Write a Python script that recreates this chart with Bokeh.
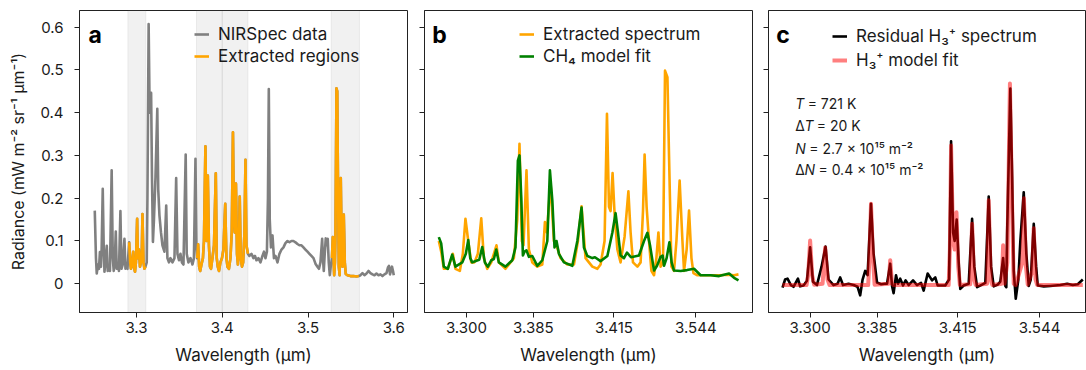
import numpy as np
from bokeh.plotting import figure
from bokeh.models import Range1d, FixedTicker, BoxAnnotation, Legend, LegendItem, Label
from bokeh.layouts import row
from bokeh.embed import file_html
from bokeh.resources import INLINE

# ---------------- data ----------------
# Panel a: full NIRSpec spectrum (wavelength in micron, radiance)
wl_a = [3.2514, 3.2528, 3.2537, 3.2551, 3.2563, 3.2574, 3.2586, 3.2594, 3.2607, 3.2618,
        3.2627, 3.2639, 3.2654, 3.2665, 3.2679, 3.2691, 3.2711, 3.2724, 3.2735, 3.2747,
        3.2759, 3.2770, 3.2784, 3.2796, 3.2813, 3.2825, 3.2840, 3.2860, 3.2872, 3.2883,
        3.2895,
        3.2915, 3.2927, 3.2936, 3.2948, 3.2962, 3.2971, 3.2983, 3.2994, 3.3008, 3.3017,
        3.3029, 3.3041, 3.3052, 3.3062, 3.3070, 3.3082, 3.3093, 3.3105,
        3.3120, 3.3128, 3.3142, 3.3154, 3.3161, 3.3171, 3.3181, 3.3192, 3.3204, 3.3222,
        3.3243, 3.3254, 3.3268, 3.3286, 3.3303, 3.3326, 3.3347, 3.3361, 3.3379, 3.3396,
        3.3420, 3.3443, 3.3463, 3.3478, 3.3496, 3.3513, 3.3530, 3.3548, 3.3574, 3.3586,
        3.3606, 3.3630, 3.3653, 3.3670, 3.3688, 3.3699,
        3.3708, 3.3719, 3.3731, 3.3743, 3.3758, 3.3775, 3.3787, 3.3804, 3.3818, 3.3832,
        3.3845, 3.3857, 3.3869, 3.3886, 3.3904, 3.3925, 3.3936, 3.3948, 3.3962, 3.3979,
        3.3997, 3.4014, 3.4035, 3.4049, 3.4061, 3.4078, 3.4096, 3.4111, 3.4125, 3.4137,
        3.4146, 3.4160, 3.4172, 3.4183, 3.4195, 3.4204, 3.4216, 3.4230, 3.4244, 3.4259,
        3.4271, 3.4282, 3.4300,
        3.4317, 3.4341, 3.4364, 3.4382, 3.4399, 3.4422, 3.4446, 3.4469, 3.4487, 3.4504,
        3.4521, 3.4533, 3.4543, 3.4554, 3.4568, 3.4586, 3.4603, 3.4621, 3.4644, 3.4667,
        3.4691, 3.4714, 3.4737, 3.4761, 3.4784, 3.4807, 3.4830, 3.4854, 3.4877, 3.4900,
        3.4924, 3.4947, 3.4970, 3.4994, 3.5017, 3.5040, 3.5064, 3.5087, 3.5110, 3.5128,
        3.5145, 3.5165, 3.5174, 3.5184, 3.5195, 3.5207, 3.5219, 3.5230, 3.5242, 3.5254,
        3.5265,
        3.5279, 3.5289, 3.5297, 3.5305, 3.5314, 3.5320, 3.5332, 3.5341, 3.5349, 3.5359,
        3.5369, 3.5382, 3.5392, 3.5402, 3.5417, 3.5429, 3.5440, 3.5460, 3.5495, 3.5530,
        3.5565, 3.5592,
        3.5612, 3.5635, 3.5658, 3.5682, 3.5705, 3.5728, 3.5752, 3.5775, 3.5798, 3.5822,
        3.5845, 3.5868, 3.5891, 3.5915, 3.5932, 3.5944, 3.5956, 3.5967, 3.5979, 3.5991,
        3.6000]
rad_a = [0.171, 0.060, 0.024, 0.045, 0.035, 0.074, 0.040, 0.080, 0.222, 0.090,
         0.028, 0.050, 0.089, 0.030, 0.040, 0.030, 0.265, 0.060, 0.030, 0.050,
         0.122, 0.035, 0.045, 0.030, 0.170, 0.035, 0.045, 0.105, 0.035, 0.040,
         0.035,
         0.097, 0.050, 0.035, 0.045, 0.075, 0.040, 0.028, 0.050, 0.152, 0.060,
         0.080, 0.040, 0.050, 0.070, 0.163, 0.050, 0.035, 0.040,
         0.050, 0.200, 0.607, 0.400, 0.410, 0.446, 0.250, 0.098, 0.150, 0.250,
         0.409, 0.220, 0.160, 0.120, 0.090, 0.075, 0.183, 0.060, 0.050, 0.060,
         0.050, 0.060, 0.247, 0.070, 0.055, 0.070, 0.050, 0.045, 0.302, 0.070,
         0.050, 0.060, 0.045, 0.060, 0.292, 0.090,
         0.060, 0.092, 0.040, 0.030, 0.045, 0.060, 0.100, 0.321, 0.100, 0.253,
         0.090, 0.040, 0.035, 0.060, 0.090, 0.258, 0.060, 0.040, 0.030, 0.050,
         0.060, 0.080, 0.187, 0.060, 0.040, 0.035, 0.060, 0.120, 0.354, 0.150,
         0.120, 0.234, 0.070, 0.045, 0.090, 0.204, 0.060, 0.040, 0.050, 0.120,
         0.290, 0.090, 0.070,
         0.065, 0.070, 0.060, 0.065, 0.055, 0.060, 0.050, 0.065, 0.075, 0.060,
         0.075, 0.200, 0.455, 0.150, 0.085, 0.113, 0.060, 0.065, 0.050, 0.070,
         0.080, 0.085, 0.095, 0.100, 0.097, 0.100, 0.100, 0.097, 0.093, 0.090,
         0.090, 0.085, 0.080, 0.075, 0.070, 0.065, 0.060, 0.047, 0.040, 0.035,
         0.050, 0.105, 0.060, 0.030, 0.070, 0.106, 0.090, 0.105, 0.050, 0.020,
         0.040,
         0.060, 0.109, 0.060, 0.020, 0.050, 0.110, 0.457, 0.450, 0.250, 0.040,
         0.020, 0.247, 0.100, 0.040, 0.162, 0.050, 0.023, 0.020, 0.018, 0.018,
         0.017, 0.018,
         0.020, 0.025, 0.020, 0.024, 0.030, 0.025, 0.022, 0.020, 0.024, 0.020,
         0.022, 0.018, 0.022, 0.025, 0.038, 0.042, 0.022, 0.030, 0.040, 0.030,
         0.020]
extract_regions = [(3.2905, 3.3110), (3.3705, 3.4305), (3.5272, 3.5597)]
shade_bands = [(3.29, 3.311), (3.37, 3.40), (3.40, 3.43), (3.527, 3.56)]
xticks_a = [3.3, 3.4, 3.5, 3.6]
xlabels_a = ["3.3", "3.4", "3.5", "3.6"]
yticks = [0, 0.1, 0.2, 0.3, 0.4, 0.5, 0.6]
ylabels = ["0", "0.1", "0.2", "0.3", "0.4", "0.5", "0.6"]

# Panels b, c: concatenated extracted spectrum (sample index)
xticks_bc = [13.8, 47.2, 87.5, 128.4]
xlabels_bc = ["3.300", "3.385", "3.415", "3.544"]

idx_b_obs = [0, 1.2, 2.5, 4.5, 7, 8.3, 10.5, 12, 13.3, 14.7, 16.2, 17.8, 19.5, 21.2, 22.5,
             24.2, 26.2, 28.8, 30, 33.3, 37.5, 39.2, 40.3, 41.5, 42.3, 43.8, 45, 46.7, 49.2,
             51.7, 53, 54, 55.8, 57.5, 58.8, 60.8, 64.2, 67.5, 69.5, 71.3, 73.3, 75, 76.7,
             79.2, 80.8, 82.8, 84, 85, 85.8, 86.8, 87.8, 89.2, 90.8, 92.8, 94.7, 95.8, 97,
             99.2, 100.8, 102, 102.8, 103.8, 105, 106.2, 107.5, 108.7, 109.7, 110.8, 112,
             113, 114.2, 115, 116.2, 117.5, 118.7, 120.3, 121.7, 122.5, 123.8, 125, 126.2,
             127.2, 129, 134, 140, 145, 147.5, 149.7]
rad_b_obs = [0.100, 0.075, 0.035, 0.035, 0.070, 0.035, 0.030, 0.070, 0.152, 0.100, 0.050,
             0.050, 0.070, 0.153, 0.060, 0.035, 0.050, 0.090, 0.050, 0.035, 0.060, 0.150,
             0.327, 0.100, 0.090, 0.265, 0.080, 0.050, 0.040, 0.045, 0.144, 0.120, 0.237,
             0.100, 0.090, 0.060, 0.045, 0.045, 0.100, 0.181, 0.060, 0.050, 0.040, 0.035,
             0.045, 0.100, 0.397, 0.180, 0.170, 0.259, 0.163, 0.080, 0.050, 0.110, 0.216,
             0.120, 0.050, 0.040, 0.050, 0.170, 0.302, 0.180, 0.100, 0.030, 0.020, 0.060,
             0.120, 0.040, 0.050, 0.498, 0.483, 0.300, 0.040, 0.030, 0.100, 0.241, 0.100,
             0.030, 0.080, 0.171, 0.060, 0.025, 0.020, 0.020, 0.020, 0.021, 0.020, 0.022]

idx_b_fit = [0, 1.2, 2.5, 4.5, 6.7, 8.3, 11.7, 13.5, 14.7, 15.7, 16.7, 18.8, 20.2, 21.7, 23,
             24.5, 26.2, 27.5, 28.7, 30, 33.3, 36.7, 38.3, 39.5, 40.3, 41.2, 42, 42.8, 43.8,
             45, 46.7, 49.2, 51.7, 54.2, 55.5, 56.7, 57.8, 58.8, 60, 62.5, 66.7, 69.2, 71.3,
             72.5, 74.2, 76.7, 78, 80.8, 84.2, 86.7, 88.3, 89.5, 90.8, 92.5, 94, 96, 100,
             102.5, 104.2, 105.5, 107.5, 109, 110.8, 111.8, 112.5, 113.8, 115.2, 116.3, 117.5,
             120.8, 124, 127.5, 130.8, 135.8, 140, 145, 147.5, 149.7]
rad_b_fit = [0.109, 0.094, 0.040, 0.035, 0.068, 0.040, 0.050, 0.070, 0.102, 0.060, 0.050,
             0.054, 0.056, 0.086, 0.050, 0.040, 0.055, 0.058, 0.080, 0.050, 0.040, 0.055,
             0.085, 0.288, 0.300, 0.200, 0.066, 0.075, 0.078, 0.063, 0.065, 0.042, 0.055,
             0.100, 0.265, 0.195, 0.085, 0.100, 0.070, 0.050, 0.042, 0.100, 0.178, 0.085,
             0.065, 0.060, 0.062, 0.053, 0.065, 0.120, 0.165, 0.120, 0.066, 0.060, 0.073,
             0.062, 0.066, 0.100, 0.119, 0.090, 0.031, 0.042, 0.063, 0.066, 0.042, 0.060,
             0.097, 0.050, 0.031, 0.030, 0.032, 0.035, 0.020, 0.020, 0.018, 0.024, 0.014,
             0.008]

idx_c_res = [0, 1.3, 2.5, 4.2, 5.5, 7.7, 8.8, 10.5, 12.2, 13.8, 15.2, 17.2, 19.5, 21.5, 23,
             25.5, 27.5, 28.8, 30.2, 33, 35.5, 37.5, 38.8, 40, 41.3, 42.5, 44.2, 45.5, 47.2,
             49.3, 51, 52.2, 53.8, 54.7, 55.5, 56.7, 57.7, 58.8, 60.2, 61.5, 63, 65.2, 67.2,
             69.2, 70.5, 72.5, 74.7, 76.3, 77.5, 79.7, 81.3, 83.2, 84.2, 85.2, 86, 87, 88,
             88.8, 90.5, 93, 94.7, 95.8, 97.2, 99.7, 101.3, 103, 104.2, 105.5, 107.5, 108.8,
             110.2, 111.3, 111.8, 112.2, 113.8, 114.7, 115.5, 116.5, 117.8, 118.8, 120.5,
             121.8, 123, 124, 125.5, 126.7, 127.5, 130.5, 133.8, 138.8, 142.2, 145, 147.5, 150]
rad_c_res = [-0.009, 0.010, 0.012, -0.003, -0.007, 0.012, -0.006, -0.004, 0.007, 0.085,
             0.005, -0.003, 0.040, 0.087, 0.010, -0.003, 0.000, 0.015, -0.003, 0.000,
             -0.003, -0.007, -0.027, 0.010, 0.030, 0.020, 0.187, 0.070, 0.003, -0.001,
             0.000, 0.000, 0.047, -0.005, -0.022, 0.020, 0.000, 0.012, -0.004, 0.008,
             -0.003, 0.008, -0.003, 0.002, -0.016, 0.024, 0.008, 0.015, -0.004, -0.004,
             -0.004, 0.010, 0.333, 0.120, 0.100, 0.150, 0.050, -0.012, -0.004, 0.000,
             0.152, 0.040, -0.008, -0.002, 0.002, 0.204, 0.040, -0.006, -0.002, 0.005,
             0.060, -0.005, -0.008, 0.120, 0.456, 0.250, 0.030, -0.035, 0.010, 0.100,
             0.214, 0.070, -0.005, 0.010, 0.140, 0.040, -0.004, -0.006, -0.005, -0.003,
             0.000, -0.003, -0.001, 0.010]

idx_c_fit = [0, 12, 12.8, 13.8, 14.8, 15.8, 20, 21.3, 22.5, 23.5, 42.8, 43.4, 44.2, 45.2,
             46, 53, 53.8, 54.7, 55.5, 83, 83.6, 84.2, 85.2, 86, 86.9, 87.8, 88.6, 93.8,
             94.7, 95.7, 96.5, 102.2, 103, 104, 104.8, 109.5, 110.2, 110.9, 112.3, 113.6,
             114.6, 115.5, 116.5, 119.8, 120.6, 121.6, 122.5, 124.8, 125.5, 126.4, 127.2, 150]
rad_c_fit = [-0.003, -0.003, 0.020, 0.101, 0.020, -0.002, 0.000, 0.085, 0.010, -0.003,
             -0.003, 0.060, 0.187, 0.060, -0.002, 0.000, 0.055, 0.000, -0.003, -0.003,
             0.080, 0.323, 0.100, 0.080, 0.167, 0.040, -0.003, -0.001, 0.140, 0.010,
             -0.003, 0.000, 0.195, 0.010, -0.003, 0.000, 0.090, 0.000, 0.050, 0.468,
             0.200, 0.000, -0.003, 0.050, 0.200, 0.040, -0.002, 0.030, 0.130, 0.010,
             -0.003, -0.003]

# ---------------- style ----------------
FONT = "Inter"
TXT = "#1a1a1a"
AX = "#222222"
YR = (-0.0671, 0.6386)


def style(p, xticks, xlabels, show_y):
    p.outline_line_color = AX
    p.outline_line_width = 1
    p.xgrid.visible = False
    p.ygrid.visible = False
    p.background_fill_color = "white"
    p.border_fill_color = "white"
    for ax in (p.xaxis[0], p.yaxis[0]):
        ax.major_tick_out = 5
        ax.major_tick_in = 0
        ax.minor_tick_line_color = None
        ax.axis_line_color = AX
        ax.major_tick_line_color = AX
        ax.major_label_text_font = FONT
        ax.major_label_text_font_size = "15px"
        ax.major_label_text_color = TXT
        ax.axis_label_text_font = FONT
        ax.axis_label_text_font_size = "17px"
        ax.axis_label_text_font_style = "normal"
        ax.axis_label_text_color = TXT
    p.xaxis[0].ticker = FixedTicker(ticks=xticks)
    p.xaxis[0].major_label_overrides = dict(zip(xticks, xlabels))
    p.xaxis[0].major_label_standoff = 4
    p.xaxis[0].axis_label_standoff = 9
    p.xaxis[0].axis_label = "Wavelength (μm)"
    p.yaxis[0].ticker = FixedTicker(ticks=yticks)
    if show_y:
        p.yaxis[0].major_label_overrides = dict(zip(yticks, ylabels))
        p.yaxis[0].major_label_standoff = 11
        p.yaxis[0].axis_label_standoff = 9
        p.yaxis[0].axis_label_text_font_size = "16px"
    else:
        p.yaxis[0].major_label_overrides = {t: "" for t in yticks}
        p.yaxis[0].major_label_standoff = 0


def make_legend(p, items, loc, spacing):
    leg = Legend(items=items, location=loc, padding=0, margin=0, spacing=spacing,
                 glyph_width=15, glyph_height=20, label_height=20, label_standoff=9,
                 label_text_font=FONT, label_text_font_size="17px", label_text_color=TXT,
                 border_line_alpha=0, background_fill_alpha=0)
    p.add_layout(leg)


def panel_label(p, x, y, t):
    p.add_layout(Label(x=x, y=y, text=t, text_font=FONT, text_font_style="bold",
                       text_font_size="23px", text_color="black", text_baseline="alphabetic"))


common = dict(height=370, output_backend="svg", toolbar_location=None,
              min_border_top=10, min_border_bottom=58)

# ---------------- panel a ----------------
pa = figure(width=410, x_range=Range1d(3.2336, 3.616), y_range=Range1d(*YR),
            min_border_left=79, min_border_right=3, **common)
style(pa, xticks_a, xlabels_a, True)
pa.yaxis[0].axis_label = "Radiance (mW m⁻² sr⁻¹ μm⁻¹)"
for lo, hi in shade_bands:
    pa.add_layout(BoxAnnotation(left=lo, right=hi, fill_color="#808080", fill_alpha=0.11,
                                line_color="#808080", line_alpha=0.12, line_width=1,
                                level="underlay"))
wl = np.array(wl_a)
rad = np.array(rad_a)
r_gray = pa.line(wl, rad, line_color="gray", line_width=2.6, line_join="round")
r_or = None
for lo, hi in extract_regions:
    m = (wl >= lo) & (wl <= hi)
    r = pa.line(wl[m], rad[m], line_color="orange", line_width=2.6, line_join="round")
    r_or = r_or or r
make_legend(pa, [LegendItem(label="NIRSpec data", renderers=[r_gray]),
                 LegendItem(label="Extracted regions", renderers=[r_or])], (115, 246), 2)
panel_label(pa, 3.2441, 0.5825, "a")

# ---------------- panel b ----------------
pb = figure(width=346, x_range=Range1d(-7.15, 156.7), y_range=Range1d(*YR),
            min_border_left=14, min_border_right=4, **common)
style(pb, xticks_bc, xlabels_bc, False)
r_bo = pb.line(idx_b_obs, rad_b_obs, line_color="orange", line_width=2.6, line_join="round")
r_bg = pb.line(idx_b_fit, rad_b_fit, line_color="green", line_width=2.6, line_join="round")
make_legend(pb, [LegendItem(label="Extracted spectrum", renderers=[r_bo]),
                 LegendItem(label="CH₄ model fit", renderers=[r_bg])], (95, 246), 2)
panel_label(pb, -3.3, 0.5825, "b")

# ---------------- panel c ----------------
pc = figure(width=330, x_range=Range1d(-7, 151.35), y_range=Range1d(*YR),
            min_border_left=12, min_border_right=1, **common)
style(pc, xticks_bc, xlabels_bc, False)
r_ck = pc.line(idx_c_res, rad_c_res, line_color="black", line_width=2.6, line_join="round")
r_cr = pc.line(idx_c_fit, rad_c_fit, line_color="red", line_alpha=0.5, line_width=4,
               line_join="round")
make_legend(pc, [LegendItem(label="Residual H₃⁺ spectrum", renderers=[r_ck]),
                 LegendItem(label="H₃⁺ model fit", renderers=[r_cr])], (64, 242), 4)
panel_label(pc, -3.15, 0.5825, "c")

ann_rows = [
    (0.4213, [("T", "italic", 0), ("= 721 K", "normal", 12.4)]),
    (0.3699, [("Δ", "normal", 0), ("T", "italic", 9.2), ("= 20 K", "normal", 21.6)]),
    (0.3161, [("N", "italic", 0), ("= 2.7 × 10¹⁵ m⁻²", "normal", 14.0)]),
    (0.2670, [("Δ", "normal", 0), ("N", "italic", 9.2), ("= 0.4 × 10¹⁵ m⁻²", "normal", 23.2)]),
]
for yv, parts in ann_rows:
    for t, st, off in parts:
        pc.add_layout(Label(x=6.35, y=yv, x_offset=off, text=t, text_font=FONT,
                            text_font_style=st, text_font_size="14px", text_color=TXT,
                            text_baseline="middle"))

layout = row(pa, pb, pc)
open("out.html", "w").write(file_html(layout, INLINE))
